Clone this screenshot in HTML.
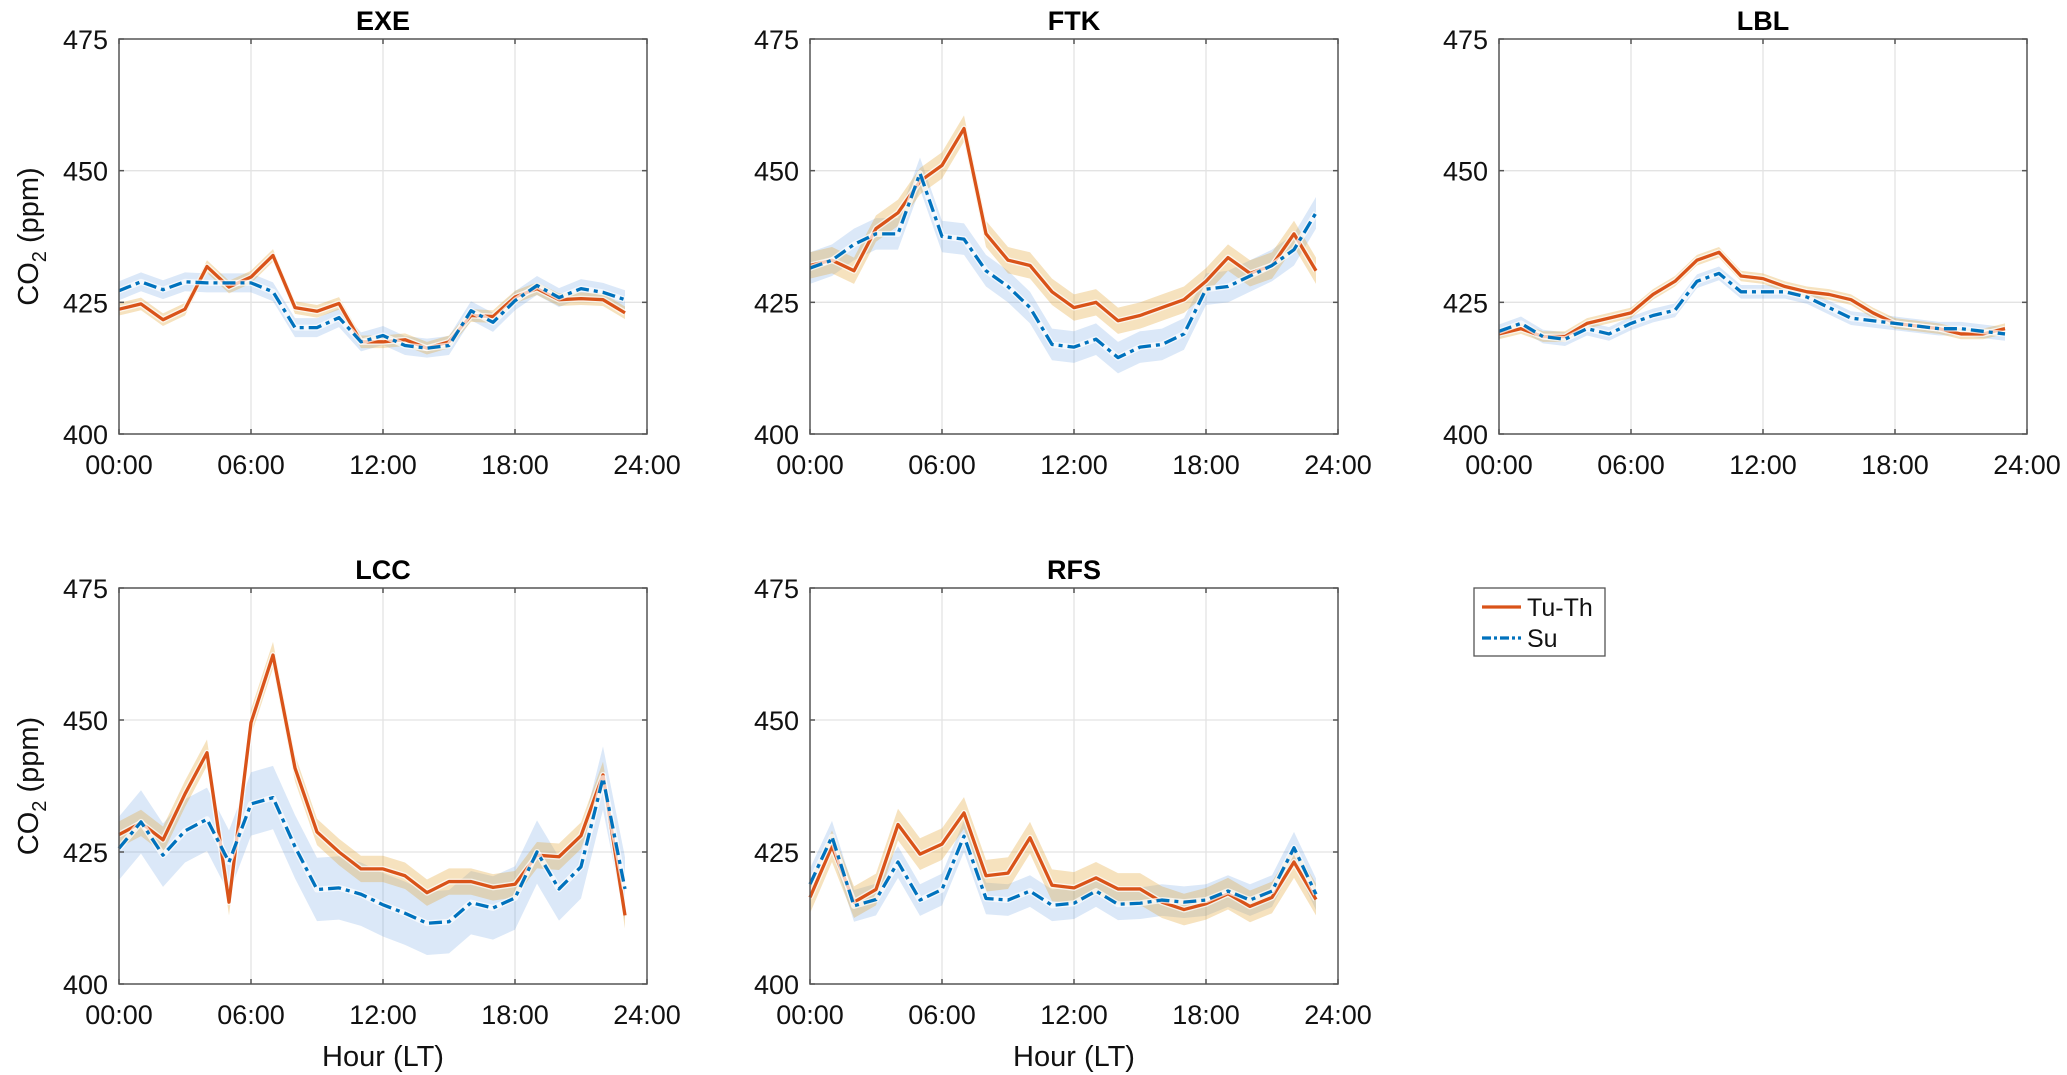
<!DOCTYPE html>
<html><head><meta charset="utf-8">
<style>
html,body{margin:0;padding:0;background:#fff;}
svg{display:block;font-family:"Liberation Sans",Arial,sans-serif;}
</style></head>
<body>
<svg id="fig" width="2067" height="1075" viewBox="0 0 2067 1075" xmlns="http://www.w3.org/2000/svg"></svg>
<script>
const hours = [0,1,2,3,4,5,6,7,8,9,10,11,12,13,14,15,16,17,18,19,20,21,22,23];
const yTicks = [400,425,450,475];
const xTicks = [0,6,12,18,24];
const xTickLabels = ["00:00","06:00","12:00","18:00","24:00"];
const panelNames = ["EXE","FTK","LBL","LCC","RFS"];

const exeTuTh = [423.7,424.7,421.7,423.7,431.8,427.9,429.8,433.9,424,423.3,424.8,417.5,417.5,417.9,416.3,417.5,422.5,422.3,426,427.6,425.5,425.7,425.5,423];
const exeSu   = [427.2,428.9,427.4,428.9,428.7,428.7,428.7,427,420.2,420.2,422.1,417.5,418.7,416.8,416.3,416.8,423.4,421.2,425.3,428.2,425.9,427.6,426.9,425.5];
const ftkTuTh = [432,433,431,439,442,448,451,458,438,433,432,427,424,425,421.5,422.5,424,425.5,429,433.5,430.5,432,438,431];
const ftkSu   = [431.5,433,436,438,438,449.5,437.5,437,431,428,424,417,416.5,418,414.5,416.5,417,419,427.5,428,430,432,435,442];
const lblTuTh = [419,420,418.5,418.5,421,422,423,426.5,429,433,434.5,430,429.5,428,427,426.5,425.5,423,421,420.5,420,419,419,420];
const lblSu   = [419.5,421,418.5,418,420,419,421,422.5,423.5,429,430.5,427,427,427,426,424,422,421.5,421,420.5,420,420,419.5,419];
const lccTuTh = [428.3,430.5,427.3,436,443.8,415.5,449.5,462.3,440.9,428.8,425,421.8,421.8,420.5,417.3,419.4,419.4,418.3,418.9,424.4,424.1,428.1,439.6,413];
const lccSu   = [425.7,430.7,424.4,429,431.2,423.1,434.1,435.3,426,417.9,418.2,417,415,413.4,411.5,411.8,415.4,414.4,416.3,425,418,422.2,439,418];
const rfsTuTh = [416.4,426.1,415.5,417.9,430.2,424.6,426.5,432.4,420.5,421,427.7,418.7,418.2,420.1,418,418,415.5,414.1,415.2,417.1,414.7,416.4,423.1,416];
const rfsSu   = [418.9,427.9,414.8,416,423.1,415.9,417.9,428,416.2,415.9,417.6,414.9,415.3,417.6,415.1,415.3,415.9,415.5,415.9,417.6,415.9,417.6,425.8,417];
const bandTuTh = [1.2,2.5,1,2.5,3];
const bandSu   = [1.8,3,1.3,6,3];

const NS="http://www.w3.org/2000/svg";
const svg=document.getElementById('fig');
function mk(tag,attrs,parent){const e=document.createElementNS(NS,tag);for(const k in attrs)e.setAttribute(k,attrs[k]);(parent||svg).appendChild(e);return e;}

const layout=[
 {x:119,y:39,w:528,h:395,tuth:exeTuTh,su:exeSu,xl:false},
 {x:810,y:39,w:528,h:395,tuth:ftkTuTh,su:ftkSu,xl:false},
 {x:1499,y:39,w:528,h:395,tuth:lblTuTh,su:lblSu,xl:false},
 {x:119,y:588,w:528,h:396,tuth:lccTuTh,su:lccSu,xl:true},
 {x:810,y:588,w:528,h:396,tuth:rfsTuTh,su:rfsSu,xl:true}
];

layout.forEach((p,i)=>{
  const g=mk('g',{});
  
  
  const sx=v=>p.x+v/24*p.w;
  const sy=v=>p.y+p.h-(v-400)/75*p.h;
  xTicks.slice(1,4).forEach(t=>{const l=mk('line',{x1:sx(t),x2:sx(t),y1:p.y,y2:p.y+p.h,stroke:'#e3e3e3','stroke-width':1.3},g);
    });
  yTicks.slice(1,3).forEach(t=>{const l=mk('line',{x1:p.x,x2:p.x+p.w,y1:sy(t),y2:sy(t),stroke:'#e3e3e3','stroke-width':1.3},g);
    });
  function band(vals,hw,fill,name){
    let up=hours.map((h,k)=>sx(h)+','+sy(vals[k]+hw)).join(' ');
    let dn=hours.slice().reverse().map(h=>sx(h)+','+sy(vals[h]-hw)).join(' ');
    const b=mk('polygon',{points:up+' '+dn,fill:fill},g);
    
  }
  band(p.su,bandSu[i],'rgba(90,150,225,0.22)','su-band');
  band(p.tuth,bandTuTh[i],'rgba(225,160,40,0.30)','tuth-band');
  function line(vals,attrs,name){
    const pts=hours.map((h,k)=>sx(h)+','+sy(vals[k])).join(' ');
    mk('polyline',{points:pts,fill:'none',stroke:'#fff','stroke-width':6,'stroke-linejoin':'round',opacity:0.7},g);
    const l=mk('polyline',Object.assign({points:pts,fill:'none','stroke-linejoin':'round'},attrs),g);
    
  }
  line(p.tuth,{stroke:'#D95319','stroke-width':3.3},'tuth-line');
  line(p.su,{stroke:'#0072BD','stroke-width':3.3,'stroke-dasharray':'13,5,4,5'},'su-line');
  const box=mk('rect',{x:p.x,y:p.y,width:p.w,height:p.h,fill:'none',stroke:'#555','stroke-width':1.5},g);
  
  xTicks.forEach((t,k)=>{
    mk('line',{x1:sx(t),x2:sx(t),y1:p.y+p.h,y2:p.y+p.h-5,stroke:'#555','stroke-width':1.5},g);
    mk('line',{x1:sx(t),x2:sx(t),y1:p.y,y2:p.y+5,stroke:'#555','stroke-width':1.5},g);
    const tx=mk('text',{x:sx(t),y:p.y+p.h+40,'text-anchor':'middle','font-size':27,fill:'#111'},g);
    tx.textContent=xTickLabels[k];
    
  });
  yTicks.forEach(t=>{
    mk('line',{x1:p.x,x2:p.x+5,y1:sy(t),y2:sy(t),stroke:'#555','stroke-width':1.5},g);
    mk('line',{x1:p.x+p.w,x2:p.x+p.w-5,y1:sy(t),y2:sy(t),stroke:'#555','stroke-width':1.5},g);
    const tx=mk('text',{x:p.x-11,y:sy(t)+10,'text-anchor':'end','font-size':27,fill:'#111'},g);
    tx.textContent=t;
    
  });
  const ti=mk('text',{x:p.x+p.w/2,y:p.y-9,'text-anchor':'middle','font-size':27,'font-weight':'bold',fill:'#000'},g);
  ti.textContent=panelNames[i];
  
  if(i===0||i===3){
    const cy=p.y+p.h/2;
    const yl=mk('text',{transform:'translate(38,'+cy+') rotate(-90)','text-anchor':'middle','font-size':29,fill:'#111'},g);
    yl.innerHTML='CO<tspan font-size="20" dy="8">2</tspan><tspan dy="-8"> (ppm)</tspan>';
    
  }
  if(p.xl){
    const xl=mk('text',{x:p.x+p.w/2,y:p.y+p.h+82,'text-anchor':'middle','font-size':29,fill:'#111'},g);
    xl.textContent='Hour (LT)';
    
  }
});

const lg=mk('g',{});


mk('rect',{x:1474,y:588,width:131,height:68,fill:'#fff',stroke:'#555','stroke-width':1.3},lg);
const l1=mk('line',{x1:1482,x2:1521,y1:607,y2:607,stroke:'#D95319','stroke-width':3.3},lg);

const t1=mk('text',{x:1527,y:616,'font-size':25,fill:'#111'},lg);t1.textContent='Tu-Th';

const l2=mk('line',{x1:1482,x2:1521,y1:638,y2:638,stroke:'#0072BD','stroke-width':3.3,'stroke-dasharray':'9,3,3,3'},lg);

const t2=mk('text',{x:1527,y:647,'font-size':25,fill:'#111'},lg);t2.textContent='Su';

</script>
</body></html>
